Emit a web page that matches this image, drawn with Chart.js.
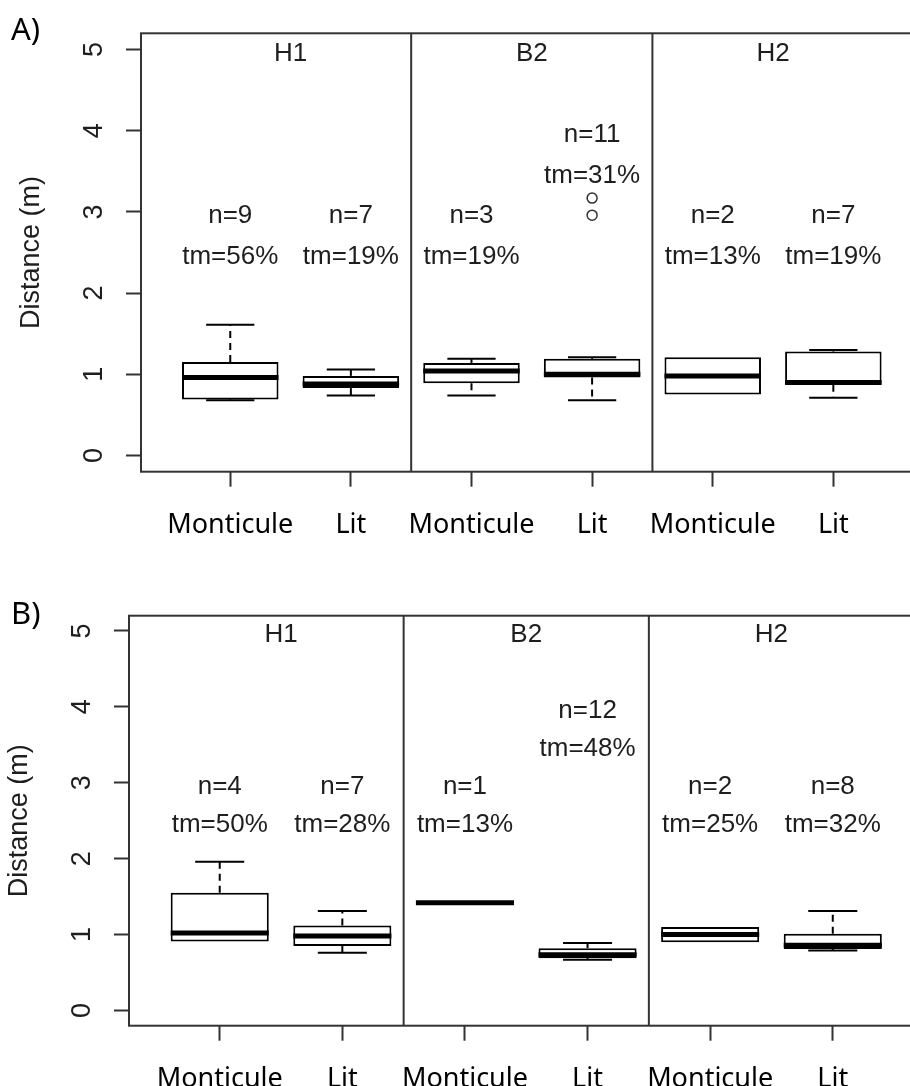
<!DOCTYPE html>
<html>
<head>
<meta charset="utf-8">
<script src="https://cdn.jsdelivr.net/npm/chart.js@4.4.1/dist/chart.umd.min.js"></script>
<style>
  html, body { margin: 0; padding: 0; overflow: hidden; background: #fff; }
  body { width: 910px; height: 1086px; position: relative; }
  canvas { position: absolute; left: 0; }
  #panelA { top: 0; }
  #panelB { top: 560px; }
</style>
</head>
<body>
<canvas id="panelA" width="940" height="545"></canvas>
<canvas id="panelB" width="940" height="526"></canvas>
<script>
// categories and groups
const categories = ['Monticule', 'Lit', 'Monticule', 'Lit', 'Monticule', 'Lit'];
const positions = [1, 2, 3, 4, 5, 6];
const sites = ['H1', 'B2', 'H2'];
const sitePositions = [1.5, 3.5, 5.5];
const dividers = [2.5, 4.5];
const yTickValues = [0, 1, 2, 3, 4, 5];

// A) box statistics
const aLow = [0.68, 0.74, 0.74, 0.68, 0.75, 0.71];
const aQ1 = [0.69, 0.83, 0.89, 0.96, 0.75, 0.87];
const aMedian = [0.96, 0.88, 1.04, 1.00, 0.98, 0.90];
const aQ3 = [1.15, 0.98, 1.14, 1.19, 1.21, 1.28];
const aHigh = [1.61, 1.06, 1.19, 1.21, 1.21, 1.30];
const aOutliers = [{ index: 3, value: 3.17 }, { index: 3, value: 2.96 }];
const aN = [9, 7, 3, 11, 2, 7];
const aTm = [56, 19, 19, 31, 13, 19];
const aLabelY = [2.7, 2.7, 2.7, 3.7, 2.7, 2.7];

// B) box statistics
const bLow = [0.91, 0.76, 1.42, 0.67, 0.90, 0.79];
const bQ1 = [0.91, 0.85, 1.42, 0.69, 0.90, 0.81];
const bMedian = [1.02, 0.98, 1.42, 0.735, 1.00, 0.86];
const bQ3 = [1.55, 1.12, 1.42, 0.82, 1.10, 1.01];
const bHigh = [1.96, 1.31, 1.42, 0.89, 1.10, 1.31];
const bOutliers = [];
const bN = [4, 7, 1, 12, 2, 8];
const bTm = [50, 28, 13, 48, 25, 32];
const bLabelY = [2.7, 2.7, 2.7, 3.7, 2.7, 2.7];

const BOX_HALF = 0.4;
const STAPLE_HALF = 0.2;
const FRAME = '#333';
const TEXT = '#1e1e1e';

function line(ctx, x1, y1, x2, y2) {
    ctx.beginPath();
    ctx.moveTo(x1, y1);
    ctx.lineTo(x2, y2);
    ctx.stroke();
}

/**
 * Plugin drawing whiskers, medians, frame and texts of one panel.
 * @param {object} p - panel stats and labels.
 */
function makeExtras(p) {
    return {
        id: 'extras' + p.name,
        afterDatasetsDraw(chart) {
            const ctx = chart.ctx;
            const area = chart.chartArea;
            const x = chart.scales.x;
            const y = chart.scales.y;
            ctx.save();

            // whiskers, staples, medians
            positions.forEach((pos, i) => {
                const cx = x.getPixelForValue(pos);
                const sl = x.getPixelForValue(pos - STAPLE_HALF);
                const sr = x.getPixelForValue(pos + STAPLE_HALF);
                const bl = x.getPixelForValue(pos - BOX_HALF);
                const br = x.getPixelForValue(pos + BOX_HALF);
                ctx.strokeStyle = '#000';
                ctx.lineWidth = 2;
                ctx.setLineDash([7, 5]);
                if (p.high[i] > p.q3[i]) line(ctx, cx, y.getPixelForValue(p.q3[i]), cx, y.getPixelForValue(p.high[i]));
                if (p.low[i] < p.q1[i]) line(ctx, cx, y.getPixelForValue(p.q1[i]), cx, y.getPixelForValue(p.low[i]));
                ctx.setLineDash([]);
                if (p.high[i] > p.q3[i]) line(ctx, sl, y.getPixelForValue(p.high[i]), sr, y.getPixelForValue(p.high[i]));
                if (p.low[i] < p.q1[i]) line(ctx, sl, y.getPixelForValue(p.low[i]), sr, y.getPixelForValue(p.low[i]));
                ctx.lineWidth = 5;
                line(ctx, bl, y.getPixelForValue(p.median[i]), br, y.getPixelForValue(p.median[i]));
            });

            // frame and group dividers
            ctx.strokeStyle = FRAME;
            ctx.lineWidth = 2;
            ctx.strokeRect(area.left, area.top, area.right - area.left, area.bottom - area.top);
            dividers.forEach(d => {
                const px = x.getPixelForValue(d);
                line(ctx, px, area.top, px, area.bottom);
            });

            // n / tm labels
            ctx.fillStyle = TEXT;
            ctx.textAlign = 'center';
            ctx.textBaseline = 'middle';
            ctx.font = '26px "Liberation Sans", Arial, sans-serif';
            positions.forEach((pos, i) => {
                const px = x.getPixelForValue(pos);
                ctx.fillText('n=' + p.n[i], px, y.getPixelForValue(p.labelY[i] + 0.25));
                ctx.fillText('tm=' + p.tm[i] + '%', px, y.getPixelForValue(p.labelY[i] - 0.25));
            });
            sites.forEach((s, i) => {
                ctx.fillText(s, x.getPixelForValue(sitePositions[i]), y.getPixelForValue(4.95));
            });

            // y tick labels and title, rotated like R
            ctx.font = '27px "Liberation Sans", Arial, sans-serif';
            y.ticks.forEach(t => {
                ctx.save();
                ctx.translate(area.left - 46, y.getPixelForValue(t.value));
                ctx.rotate(-Math.PI / 2);
                ctx.fillText(String(t.value), 0, 0);
                ctx.restore();
            });
            ctx.save();
            ctx.translate(area.left - 109, (area.top + area.bottom) / 2);
            ctx.rotate(-Math.PI / 2);
            ctx.fillText('Distance (m)', 0, 0);
            ctx.restore();

            // panel letter
            ctx.fillStyle = '#000';
            ctx.textAlign = 'left';
            ctx.textBaseline = 'alphabetic';
            ctx.font = '31px "Noto Sans", sans-serif';
            ctx.fillText(p.name + ')', 11, p.letterY);
            ctx.restore();
        }
    };
}

function displayPanel(element, p) {
    const gridOpts = {
        display: true,
        drawOnChartArea: false,
        drawTicks: true,
        tickLength: 15,
        tickWidth: 2,
        tickColor: FRAME,
        offset: false
    };
    new Chart(document.getElementById(element), {
        type: 'bar',
        data: {
            datasets: [
                {
                    type: 'bar',
                    data: positions.map((pos, i) => ({ x: pos, y: [p.q1[i], p.q3[i]] })),
                    backgroundColor: '#fff',
                    borderColor: '#000',
                    borderWidth: 2,
                    borderSkipped: false,
                    barPercentage: 0.8,
                    categoryPercentage: 1
                },
                {
                    type: 'scatter',
                    data: p.outliers.map(o => ({ x: positions[o.index], y: o.value })),
                    pointRadius: 5,
                    pointBorderWidth: 1.5,
                    borderColor: FRAME,
                    backgroundColor: 'rgba(0,0,0,0)'
                }
            ]
        },
        options: {
            responsive: false,
            animation: false,
            devicePixelRatio: 1,
            layout: { padding: { top: p.padTop, right: p.padRight, left: 0, bottom: 0 } },
            plugins: { legend: { display: false }, tooltip: { enabled: false } },
            scales: {
                x: {
                    type: 'linear',
                    min: 0.26,
                    max: 6.74,
                    offset: false,
                    grid: gridOpts,
                    border: { display: false },
                    ticks: {
                        autoSkip: false,
                        maxRotation: 0,
                        padding: 22,
                        color: '#000',
                        font: { family: '"Noto Sans", sans-serif', size: 27 },
                        callback: (value, index) => categories[index]
                    },
                    afterBuildTicks: s => { s.ticks = positions.map(v => ({ value: v })); },
                    afterFit: s => { s.height = p.xAxisHeight; }
                },
                y: {
                    type: 'linear',
                    min: -0.2,
                    max: 5.2,
                    grid: gridOpts,
                    border: { display: false },
                    ticks: { display: false },
                    afterBuildTicks: s => { s.ticks = yTickValues.map(v => ({ value: v })); },
                    afterFit: s => { s.width = p.yAxisWidth; }
                }
            }
        },
        plugins: [makeExtras(p)]
    });
}

displayPanel('panelA', {
    name: 'A', low: aLow, q1: aQ1, median: aMedian, q3: aQ3, high: aHigh,
    outliers: aOutliers, n: aN, tm: aTm, labelY: aLabelY,
    padTop: 33.3, padRight: 17.4, xAxisHeight: 73.3, yAxisWidth: 141, letterY: 40
});
displayPanel('panelB', {
    name: 'B', low: bLow, q1: bQ1, median: bMedian, q3: bQ3, high: bHigh,
    outliers: bOutliers, n: bN, tm: bTm, labelY: bLabelY,
    padTop: 55.7, padRight: 16.5, xAxisHeight: 60.3, yAxisWidth: 129, letterY: 64
});
</script>
</body>
</html>
